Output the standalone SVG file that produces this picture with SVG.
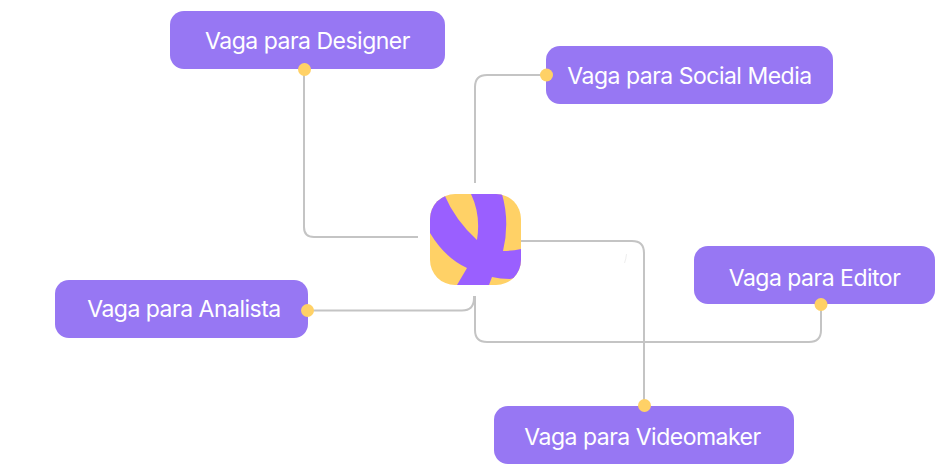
<svg xmlns="http://www.w3.org/2000/svg" width="950" height="473" viewBox="0 0 950 473">
<style>
.b{fill:#9777f3}
.t{fill:#fff;font-family:Inter,"Liberation Sans",sans-serif;font-size:23px;letter-spacing:-0.5px;text-anchor:middle}
.d{fill:#ffd166}
.c{fill:none;stroke:#c4c4c4;stroke-width:2}
</style>
<defs><clipPath id="ic"><rect x="430" y="194" width="91" height="91" rx="25"/></clipPath></defs>
<rect width="950" height="473" fill="#fff"/>
<g id="connectors">
<path class="c" d="M304 69V227Q304 237 314 237H418"/>
<path class="c" d="M546 75H487Q475 75 475 87V183"/>
<path class="c" d="M307 310.500H462Q474 310.500 474 298V296"/>
<path class="c" d="M821 304V330Q821 342 809 342H487Q475 342 475 330V296"/>
<path class="c" d="M521 241H632Q644 241 644 253V405"/>
<path fill="none" stroke="#eeeeee" stroke-width="1" d="M626.500 254Q626 259 624.500 263"/>
</g>
<g id="center">
<rect class="d" x="430" y="194" width="91" height="91" rx="25"/>
<path clip-path="url(#ic)" fill="#9a5fff" d="M444 194Q455 220 477 240Q481 215 471 194H502Q510 222 503 251Q512 251 521 249V267Q519 279 510 279Q500 279 492 277L489 285H457L467 268Q445 258 430 233V205Z"/>
</g>
<g id="designer"><rect class="b" x="170" y="11" width="275" height="58" rx="14"/><text class="t" x="307.500" y="48.500">Vaga para Designer</text><circle class="d" cx="304.500" cy="69.500" r="6.500"/></g>
<g id="social"><rect class="b" x="546" y="46" width="287" height="58" rx="14"/><text class="t" x="689.500" y="83.500">Vaga para Social Media</text><circle class="d" cx="546.500" cy="75" r="6.500"/></g>
<g id="editor"><rect class="b" x="694" y="246" width="241" height="58" rx="14"/><text class="t" x="814.500" y="285.500">Vaga para Editor</text><circle class="d" cx="821" cy="304.500" r="6.500"/></g>
<g id="analista"><rect class="b" x="55" y="280" width="253" height="58" rx="14"/><text class="t" x="184" y="316.500">Vaga para Analista</text><circle class="d" cx="307.500" cy="310.500" r="6.500"/></g>
<g id="videomaker"><rect class="b" x="494" y="406" width="300" height="58" rx="14"/><text class="t" x="642.500" y="444.500">Vaga para Videomaker</text><circle class="d" cx="644.500" cy="405.500" r="6.500"/></g>
</svg>
